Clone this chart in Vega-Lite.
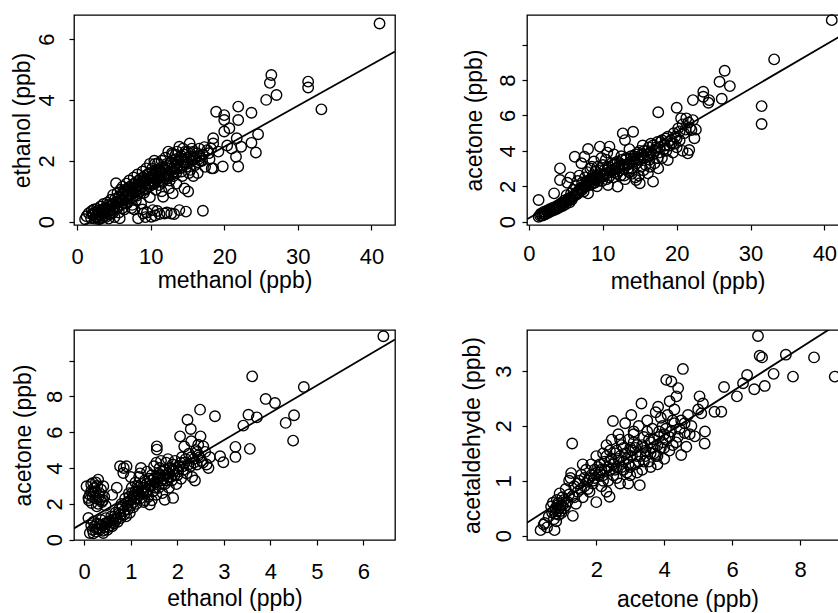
{
"$schema": "https://vega.github.io/schema/vega-lite/v6.json",
"autosize": {"type": "none"},
"padding": {"left": 74, "top": 15, "right": 764, "bottom": 598},
"background": "white",
"datasets": {
"p1": [
{"methanol":1.1,"ethanol":0.08},{"methanol":1.3,"ethanol":0.18},{"methanol":1.6,"ethanol":0.28},{"methanol":1.9,"ethanol":0.12},{"methanol":2.0,"ethanol":0.35},{"methanol":2.2,"ethanol":0.22},{"methanol":2.4,"ethanol":0.1},{"methanol":2.5,"ethanol":0.3},{"methanol":2.6,"ethanol":0.15},{"methanol":2.7,"ethanol":0.42},{"methanol":2.8,"ethanol":0.18},{"methanol":3.0,"ethanol":0.08},{"methanol":3.0,"ethanol":0.3},{"methanol":3.1,"ethanol":0.11},{"methanol":3.2,"ethanol":0.5},{"methanol":3.3,"ethanol":0.22},{"methanol":3.4,"ethanol":0.12},{"methanol":3.5,"ethanol":0.38},{"methanol":3.6,"ethanol":0.58},{"methanol":3.7,"ethanol":0.28},{"methanol":3.8,"ethanol":0.2},{"methanol":3.9,"ethanol":0.15},{"methanol":3.9,"ethanol":0.45},{"methanol":4.1,"ethanol":0.62},{"methanol":4.2,"ethanol":0.32},{"methanol":4.3,"ethanol":0.1},{"methanol":4.4,"ethanol":0.5},{"methanol":4.5,"ethanol":0.35},{"methanol":4.6,"ethanol":0.72},{"methanol":4.6,"ethanol":0.25},{"methanol":4.8,"ethanol":0.42},{"methanol":4.9,"ethanol":0.88},{"methanol":5.0,"ethanol":0.6},{"methanol":5.1,"ethanol":0.15},{"methanol":5.2,"ethanol":0.75},{"methanol":5.3,"ethanol":1.26},{"methanol":5.4,"ethanol":0.48},{"methanol":5.5,"ethanol":0.95},{"methanol":5.6,"ethanol":0.65},{"methanol":5.7,"ethanol":0.3},{"methanol":5.8,"ethanol":0.82},{"methanol":5.8,"ethanol":0.11},{"methanol":5.9,"ethanol":1.05},{"methanol":6.0,"ethanol":0.55},{"methanol":6.1,"ethanol":0.9},{"methanol":6.2,"ethanol":1.15},{"methanol":6.2,"ethanol":0.45},{"methanol":6.3,"ethanol":0.7},{"methanol":6.4,"ethanol":0.4},{"methanol":6.5,"ethanol":1.0},{"methanol":6.6,"ethanol":0.8},{"methanol":6.7,"ethanol":1.25},{"methanol":6.8,"ethanol":0.6},{"methanol":6.9,"ethanol":1.1},{"methanol":6.9,"ethanol":0.65},{"methanol":7.0,"ethanol":0.9},{"methanol":7.1,"ethanol":1.35},{"methanol":7.2,"ethanol":0.75},{"methanol":7.3,"ethanol":1.05},{"methanol":7.4,"ethanol":0.45},{"methanol":7.5,"ethanol":1.2},{"methanol":7.5,"ethanol":0.8},{"methanol":7.6,"ethanol":0.95},{"methanol":7.7,"ethanol":1.45},{"methanol":7.8,"ethanol":0.4},{"methanol":7.9,"ethanol":1.1},{"methanol":8.0,"ethanol":1.3},{"methanol":8.1,"ethanol":0.85},{"methanol":8.2,"ethanol":1.55},{"methanol":8.3,"ethanol":0.11},{"methanol":8.3,"ethanol":1.2},{"methanol":8.4,"ethanol":0.95},{"methanol":8.5,"ethanol":1.0},{"methanol":8.6,"ethanol":1.4},{"methanol":8.7,"ethanol":0.6},{"methanol":8.8,"ethanol":1.15},{"methanol":8.9,"ethanol":1.65},{"methanol":9.0,"ethanol":0.27},{"methanol":9.0,"ethanol":1.3},{"methanol":9.1,"ethanol":0.95},{"methanol":9.2,"ethanol":1.5},{"methanol":9.3,"ethanol":1.05},{"methanol":9.4,"ethanol":1.75},{"methanol":9.4,"ethanol":1.1},{"methanol":9.5,"ethanol":0.3},{"methanol":9.6,"ethanol":1.4},{"methanol":9.7,"ethanol":1.25},{"methanol":9.8,"ethanol":1.6},{"methanol":9.9,"ethanol":0.8},{"methanol":9.9,"ethanol":1.9},{"methanol":10.0,"ethanol":1.45},{"methanol":10.0,"ethanol":1.25},{"methanol":10.1,"ethanol":0.16},{"methanol":10.1,"ethanol":1.2},{"methanol":10.2,"ethanol":1.75},{"methanol":10.3,"ethanol":0.38},{"methanol":10.4,"ethanol":1.55},{"methanol":10.5,"ethanol":1.3},{"methanol":10.5,"ethanol":2.0},{"methanol":10.6,"ethanol":1.9},{"methanol":10.7,"ethanol":1.05},{"methanol":10.8,"ethanol":1.6},{"methanol":10.8,"ethanol":1.35},{"methanol":10.9,"ethanol":1.4},{"methanol":11.0,"ethanol":1.92},{"methanol":11.1,"ethanol":1.2},{"methanol":11.2,"ethanol":0.25},{"methanol":11.2,"ethanol":1.7},{"methanol":11.3,"ethanol":1.6},{"methanol":11.4,"ethanol":1.5},{"methanol":11.5,"ethanol":2.0},{"methanol":11.6,"ethanol":1.3},{"methanol":11.7,"ethanol":0.82},{"methanol":11.8,"ethanol":1.75},{"methanol":11.9,"ethanol":0.27},{"methanol":11.9,"ethanol":1.55},{"methanol":12.0,"ethanol":2.1},{"methanol":12.1,"ethanol":1.4},{"methanol":12.2,"ethanol":1.5},{"methanol":12.3,"ethanol":1.85},{"methanol":12.4,"ethanol":2.3},{"methanol":12.4,"ethanol":1.6},{"methanol":12.6,"ethanol":1.35},{"methanol":12.7,"ethanol":1.95},{"methanol":12.8,"ethanol":0.27},{"methanol":12.8,"ethanol":1.7},{"methanol":12.9,"ethanol":2.25},{"methanol":13.0,"ethanol":0.93},{"methanol":13.0,"ethanol":2.2},{"methanol":13.1,"ethanol":1.5},{"methanol":13.2,"ethanol":1.65},{"methanol":13.3,"ethanol":1.85},{"methanol":13.4,"ethanol":2.05},{"methanol":13.5,"ethanol":1.6},{"methanol":13.6,"ethanol":2.3},{"methanol":13.7,"ethanol":1.95},{"methanol":13.9,"ethanol":0.38},{"methanol":13.9,"ethanol":2.46},{"methanol":14.0,"ethanol":1.75},{"methanol":14.1,"ethanol":1.85},{"methanol":14.2,"ethanol":2.15},{"methanol":14.3,"ethanol":1.5},{"methanol":14.4,"ethanol":2.4},{"methanol":14.5,"ethanol":1.95},{"methanol":14.6,"ethanol":1.09},{"methanol":14.7,"ethanol":2.3},{"methanol":14.8,"ethanol":0.33},{"methanol":14.9,"ethanol":1.8},{"methanol":15.0,"ethanol":1.9},{"methanol":15.1,"ethanol":0.99},{"methanol":15.1,"ethanol":2.1},{"methanol":15.3,"ethanol":2.57},{"methanol":15.4,"ethanol":1.7},{"methanol":15.6,"ethanol":2.0},{"methanol":15.8,"ethanol":2.3},{"methanol":15.8,"ethanol":1.5},{"methanol":16.0,"ethanol":1.85},{"methanol":16.0,"ethanol":2.1},{"methanol":16.2,"ethanol":2.15},{"methanol":16.4,"ethanol":1.6},{"methanol":16.5,"ethanol":1.95},{"methanol":16.6,"ethanol":2.4},{"methanol":16.8,"ethanol":2.0},{"methanol":17.0,"ethanol":2.0},{"methanol":17.1,"ethanol":0.36},{"methanol":17.1,"ethanol":2.2},{"methanol":17.4,"ethanol":1.8},{"methanol":17.7,"ethanol":2.35},{"methanol":18.0,"ethanol":2.05},{"methanol":18.2,"ethanol":2.4},{"methanol":18.3,"ethanol":1.75},{"methanol":18.5,"ethanol":2.74},{"methanol":18.5,"ethanol":2.57},{"methanol":18.5,"ethanol":1.75},{"methanol":18.9,"ethanol":3.61},{"methanol":19.2,"ethanol":2.3},{"methanol":19.8,"ethanol":1.81},{"methanol":20.0,"ethanol":3.5},{"methanol":20.0,"ethanol":3.34},{"methanol":20.0,"ethanol":2.96},{"methanol":20.4,"ethanol":2.5},{"methanol":20.7,"ethanol":3.07},{"methanol":21.0,"ethanol":2.4},{"methanol":21.6,"ethanol":2.13},{"methanol":21.7,"ethanol":2.74},{"methanol":21.9,"ethanol":3.78},{"methanol":21.9,"ethanol":3.34},{"methanol":21.9,"ethanol":1.81},{"methanol":22.3,"ethanol":2.46},{"methanol":23.7,"ethanol":3.58},{"methanol":23.7,"ethanol":2.59},{"methanol":24.3,"ethanol":2.27},{"methanol":24.6,"ethanol":2.87},{"methanol":25.7,"ethanol":4.0},{"methanol":26.2,"ethanol":4.56},{"methanol":26.4,"ethanol":4.82},{"methanol":27.1,"ethanol":4.16},{"methanol":31.4,"ethanol":4.6},{"methanol":31.4,"ethanol":4.41},{"methanol":33.2,"ethanol":3.69},{"methanol":41.1,"ethanol":6.51},
{"methanol":2.1,"ethanol":0.25},{"methanol":2.3,"ethanol":0.4},{"methanol":2.9,"ethanol":0.35},{"methanol":3.2,"ethanol":0.2},{"methanol":3.5,"ethanol":0.15},{"methanol":3.6,"ethanol":0.42},{"methanol":4.0,"ethanol":0.4},{"methanol":4.2,"ethanol":0.55},{"methanol":4.4,"ethanol":0.25},{"methanol":4.7,"ethanol":0.55},{"methanol":4.9,"ethanol":0.3},{"methanol":5.1,"ethanol":0.5},{"methanol":5.3,"ethanol":0.65},{"methanol":5.5,"ethanol":0.45},{"methanol":5.6,"ethanol":0.8},{"methanol":5.9,"ethanol":0.7},{"methanol":6.1,"ethanol":0.75},{"methanol":6.3,"ethanol":0.9},{"methanol":6.5,"ethanol":0.6},{"methanol":6.6,"ethanol":1.05},{"methanol":6.8,"ethanol":0.85},{"methanol":7.0,"ethanol":1.0},{"methanol":7.2,"ethanol":1.15},{"methanol":7.4,"ethanol":0.9},{"methanol":7.6,"ethanol":1.1},{"methanol":7.8,"ethanol":1.25},{"methanol":8.0,"ethanol":1.0},{"methanol":8.2,"ethanol":1.2},{"methanol":8.4,"ethanol":1.35},{"methanol":8.6,"ethanol":1.1},{"methanol":8.8,"ethanol":1.3},{"methanol":9.0,"ethanol":1.45},{"methanol":9.2,"ethanol":1.2},{"methanol":9.4,"ethanol":1.35},{"methanol":9.6,"ethanol":1.55},{"methanol":9.8,"ethanol":1.15},{"methanol":10.0,"ethanol":1.35},{"methanol":10.2,"ethanol":1.5},{"methanol":10.4,"ethanol":1.25},{"methanol":10.6,"ethanol":1.45},{"methanol":10.8,"ethanol":1.7},{"methanol":11.0,"ethanol":1.5},{"methanol":11.2,"ethanol":1.35},{"methanol":11.4,"ethanol":1.65},{"methanol":11.6,"ethanol":1.8},{"methanol":11.8,"ethanol":1.45},{"methanol":12.0,"ethanol":1.7},{"methanol":12.2,"ethanol":1.9},{"methanol":12.4,"ethanol":1.5},{"methanol":12.6,"ethanol":1.75},{"methanol":12.8,"ethanol":1.95},{"methanol":13.0,"ethanol":1.6},{"methanol":13.2,"ethanol":1.8},{"methanol":13.4,"ethanol":2.2},{"methanol":13.6,"ethanol":1.75},{"methanol":13.8,"ethanol":2.0},{"methanol":14.0,"ethanol":2.1},{"methanol":14.2,"ethanol":1.65},{"methanol":14.4,"ethanol":1.95},{"methanol":14.6,"ethanol":2.2},{"methanol":14.8,"ethanol":2.05},{"methanol":15.0,"ethanol":2.3},{"methanol":15.2,"ethanol":1.6},{"methanol":15.4,"ethanol":2.15},{"methanol":15.6,"ethanol":2.4},{"methanol":15.9,"ethanol":2.05},{"methanol":16.3,"ethanol":2.25},{"methanol":16.7,"ethanol":2.15},{"methanol":17.3,"ethanol":2.45},{"methanol":17.9,"ethanol":2.25},{"methanol":8.9,"ethanol":0.4},{"methanol":9.3,"ethanol":0.15},{"methanol":10.6,"ethanol":0.2},{"methanol":10.9,"ethanol":0.35},{"methanol":12.2,"ethanol":0.3},{"methanol":13.2,"ethanol":0.25},{"methanol":7.5,"ethanol":0.55},{"methanol":8.0,"ethanol":0.7},{"methanol":12.5,"ethanol":1.1},{"methanol":13.5,"ethanol":1.25},{"methanol":11.5,"ethanol":1.0}
],
"p2": [
{"methanol":1.3,"acetone":0.28},{"methanol":1.3,"acetone":1.22},{"methanol":1.6,"acetone":0.45},{"methanol":1.8,"acetone":0.35},{"methanol":2.0,"acetone":0.55},{"methanol":2.2,"acetone":0.42},{"methanol":2.3,"acetone":0.5},{"methanol":2.4,"acetone":0.62},{"methanol":2.6,"acetone":0.5},{"methanol":2.8,"acetone":0.7},{"methanol":2.9,"acetone":0.65},{"methanol":3.0,"acetone":0.58},{"methanol":3.2,"acetone":0.78},{"methanol":3.4,"acetone":1.6},{"methanol":3.4,"acetone":0.65},{"methanol":3.5,"acetone":0.75},{"methanol":3.6,"acetone":0.85},{"methanol":3.8,"acetone":0.72},{"methanol":4.0,"acetone":0.95},{"methanol":4.2,"acetone":3.01},{"methanol":4.2,"acetone":2.35},{"methanol":4.2,"acetone":0.82},{"methanol":4.4,"acetone":1.05},{"methanol":4.5,"acetone":1.0},{"methanol":4.6,"acetone":0.9},{"methanol":4.8,"acetone":1.2},{"methanol":5.0,"acetone":1.0},{"methanol":5.1,"acetone":1.5},{"methanol":5.2,"acetone":2.2},{"methanol":5.3,"acetone":1.3},{"methanol":5.4,"acetone":1.2},{"methanol":5.5,"acetone":1.1},{"methanol":5.6,"acetone":2.5},{"methanol":5.7,"acetone":1.6},{"methanol":5.8,"acetone":1.25},{"methanol":6.0,"acetone":1.8},{"methanol":6.1,"acetone":1.45},{"methanol":6.2,"acetone":3.67},{"methanol":6.3,"acetone":2.0},{"methanol":6.4,"acetone":1.6},{"methanol":6.5,"acetone":1.55},{"methanol":6.6,"acetone":2.3},{"methanol":6.7,"acetone":1.75},{"methanol":6.8,"acetone":2.6},{"methanol":7.0,"acetone":1.9},{"methanol":7.1,"acetone":3.3},{"methanol":7.2,"acetone":2.2},{"methanol":7.3,"acetone":1.9},{"methanol":7.4,"acetone":1.7},{"methanol":7.5,"acetone":3.67},{"methanol":7.6,"acetone":2.5},{"methanol":7.7,"acetone":2.0},{"methanol":7.8,"acetone":2.1},{"methanol":7.9,"acetone":2.8},{"methanol":8.0,"acetone":4.11},{"methanol":8.0,"acetone":1.6},{"methanol":8.1,"acetone":2.3},{"methanol":8.2,"acetone":2.2},{"methanol":8.3,"acetone":3.0},{"methanol":8.4,"acetone":2.1},{"methanol":8.6,"acetone":2.6},{"methanol":8.7,"acetone":2.4},{"methanol":8.8,"acetone":3.4},{"methanol":8.9,"acetone":2.2},{"methanol":9.0,"acetone":2.85},{"methanol":9.1,"acetone":2.4},{"methanol":9.2,"acetone":2.0},{"methanol":9.3,"acetone":3.1},{"methanol":9.4,"acetone":2.6},{"methanol":9.5,"acetone":2.5},{"methanol":9.6,"acetone":4.24},{"methanol":9.7,"acetone":2.9},{"methanol":9.9,"acetone":2.3},{"methanol":10.0,"acetone":3.2},{"methanol":10.1,"acetone":2.6},{"methanol":10.2,"acetone":2.7},{"methanol":10.4,"acetone":3.5},{"methanol":10.5,"acetone":2.4},{"methanol":10.7,"acetone":2.07},{"methanol":10.7,"acetone":3.0},{"methanol":10.8,"acetone":2.5},{"methanol":10.9,"acetone":4.24},{"methanol":11.0,"acetone":2.8},{"methanol":11.2,"acetone":3.3},{"methanol":11.3,"acetone":2.9},{"methanol":11.4,"acetone":2.5},{"methanol":11.5,"acetone":3.8},{"methanol":11.6,"acetone":2.8},{"methanol":11.7,"acetone":3.0},{"methanol":11.9,"acetone":2.7},{"methanol":12.0,"acetone":1.98},{"methanol":12.0,"acetone":3.4},{"methanol":12.2,"acetone":3.1},{"methanol":12.3,"acetone":2.9},{"methanol":12.4,"acetone":2.6},{"methanol":12.5,"acetone":3.7},{"methanol":12.6,"acetone":3.2},{"methanol":12.7,"acetone":4.99},{"methanol":12.8,"acetone":3.0},{"methanol":13.0,"acetone":4.61},{"methanol":13.0,"acetone":2.4},{"methanol":13.1,"acetone":3.5},{"methanol":13.3,"acetone":3.2},{"methanol":13.4,"acetone":3.0},{"methanol":13.5,"acetone":2.8},{"methanol":13.6,"acetone":4.1},{"methanol":13.8,"acetone":3.4},{"methanol":14.0,"acetone":3.0},{"methanol":14.1,"acetone":5.08},{"methanol":14.2,"acetone":3.7},{"methanol":14.3,"acetone":3.4},{"methanol":14.4,"acetone":2.5},{"methanol":14.5,"acetone":2.35},{"methanol":14.6,"acetone":3.3},{"methanol":14.8,"acetone":3.9},{"methanol":15.0,"acetone":2.17},{"methanol":15.0,"acetone":3.5},{"methanol":15.2,"acetone":3.1},{"methanol":15.3,"acetone":3.8},{"methanol":15.4,"acetone":4.3},{"methanol":15.6,"acetone":3.6},{"methanol":15.8,"acetone":3.2},{"methanol":16.0,"acetone":4.0},{"methanol":16.1,"acetone":2.73},{"methanol":16.2,"acetone":3.7},{"methanol":16.3,"acetone":3.5},{"methanol":16.5,"acetone":4.4},{"methanol":16.8,"acetone":2.26},{"methanol":16.8,"acetone":3.8},{"methanol":17.0,"acetone":3.3},{"methanol":17.2,"acetone":4.2},{"methanol":17.4,"acetone":3.6},{"methanol":17.5,"acetone":6.18},{"methanol":17.5,"acetone":3.01},{"methanol":17.6,"acetone":3.9},{"methanol":17.8,"acetone":4.5},{"methanol":18.0,"acetone":3.6},{"methanol":18.3,"acetone":4.1},{"methanol":18.5,"acetone":4.7},{"methanol":18.6,"acetone":4.0},{"methanol":18.8,"acetone":3.48},{"methanol":19.0,"acetone":4.3},{"methanol":19.3,"acetone":4.43},{"methanol":19.5,"acetone":3.9},{"methanol":19.6,"acetone":4.4},{"methanol":19.8,"acetone":4.8},{"methanol":20.0,"acetone":6.44},{"methanol":20.0,"acetone":4.2},{"methanol":20.2,"acetone":5.27},{"methanol":20.4,"acetone":4.6},{"methanol":20.6,"acetone":5.84},{"methanol":20.8,"acetone":4.0},{"methanol":21.0,"acetone":5.0},{"methanol":21.3,"acetone":5.84},{"methanol":21.5,"acetone":3.86},{"methanol":21.7,"acetone":4.05},{"methanol":21.8,"acetone":5.3},{"methanol":22.0,"acetone":5.18},{"methanol":22.2,"acetone":5.74},{"methanol":22.2,"acetone":6.87},{"methanol":22.4,"acetone":4.71},{"methanol":22.6,"acetone":5.2},{"methanol":23.6,"acetone":7.34},{"methanol":23.6,"acetone":7.06},{"methanol":24.3,"acetone":6.72},{"methanol":24.4,"acetone":6.87},{"methanol":25.8,"acetone":7.91},{"methanol":26.1,"acetone":6.95},{"methanol":26.5,"acetone":8.53},{"methanol":27.2,"acetone":7.66},{"methanol":31.5,"acetone":6.53},{"methanol":31.5,"acetone":5.52},{"methanol":33.2,"acetone":9.17},{"methanol":41.0,"acetone":11.39},
{"methanol":1.5,"acetone":0.35},{"methanol":1.9,"acetone":0.45},{"methanol":2.1,"acetone":0.4},{"methanol":2.5,"acetone":0.55},{"methanol":2.7,"acetone":0.6},{"methanol":3.1,"acetone":0.7},{"methanol":3.3,"acetone":0.7},{"methanol":3.7,"acetone":0.8},{"methanol":3.9,"acetone":0.85},{"methanol":4.1,"acetone":0.9},{"methanol":4.3,"acetone":1.0},{"methanol":4.7,"acetone":1.05},{"methanol":4.9,"acetone":1.1},{"methanol":5.2,"acetone":1.2},{"methanol":5.6,"acetone":1.35},{"methanol":5.9,"acetone":1.4},{"methanol":6.2,"acetone":1.5},{"methanol":6.6,"acetone":1.65},{"methanol":6.9,"acetone":1.8},{"methanol":7.2,"acetone":1.8},{"methanol":7.5,"acetone":2.0},{"methanol":7.8,"acetone":2.3},{"methanol":8.1,"acetone":2.05},{"methanol":8.4,"acetone":2.4},{"methanol":8.7,"acetone":2.2},{"methanol":9.0,"acetone":2.5},{"methanol":9.3,"acetone":2.3},{"methanol":9.6,"acetone":2.7},{"methanol":9.9,"acetone":2.6},{"methanol":10.2,"acetone":2.9},{"methanol":10.5,"acetone":2.7},{"methanol":10.8,"acetone":3.1},{"methanol":11.1,"acetone":2.9},{"methanol":11.4,"acetone":3.2},{"methanol":11.7,"acetone":3.3},{"methanol":12.0,"acetone":3.0},{"methanol":12.3,"acetone":3.3},{"methanol":12.6,"acetone":3.5},{"methanol":12.9,"acetone":3.2},{"methanol":13.2,"acetone":3.6},{"methanol":13.5,"acetone":3.3},{"methanol":13.8,"acetone":3.7},{"methanol":14.1,"acetone":3.5},{"methanol":14.4,"acetone":3.8},{"methanol":14.7,"acetone":3.6},{"methanol":15.0,"acetone":4.0},{"methanol":15.3,"acetone":3.6},{"methanol":15.6,"acetone":4.0},{"methanol":15.9,"acetone":3.8},{"methanol":16.2,"acetone":4.2},{"methanol":16.5,"acetone":3.9},{"methanol":16.8,"acetone":4.3},{"methanol":17.1,"acetone":4.0},{"methanol":17.4,"acetone":4.5},{"methanol":17.7,"acetone":4.2},{"methanol":18.0,"acetone":4.6},{"methanol":18.4,"acetone":4.3},{"methanol":18.8,"acetone":4.8},{"methanol":19.2,"acetone":4.6},{"methanol":19.6,"acetone":5.0},{"methanol":20.0,"acetone":4.7},{"methanol":20.4,"acetone":5.1},{"methanol":20.8,"acetone":5.5},{"methanol":21.2,"acetone":5.2},{"methanol":21.6,"acetone":5.6},{"methanol":12.9,"acetone":2.6},{"methanol":13.9,"acetone":2.7},{"methanol":15.5,"acetone":2.9},{"methanol":16.4,"acetone":3.1},{"methanol":14.9,"acetone":2.6},{"methanol":9.8,"acetone":3.6},{"methanol":8.5,"acetone":3.1},{"methanol":10.6,"acetone":3.9}
],
"p3": [
{"ethanol":0.05,"acetone":2.98},{"ethanol":0.09,"acetone":2.33},{"ethanol":0.1,"acetone":2.2},{"ethanol":0.12,"acetone":2.51},{"ethanol":0.15,"acetone":3.1},{"ethanol":0.16,"acetone":2.05},{"ethanol":0.19,"acetone":3.17},{"ethanol":0.2,"acetone":2.6},{"ethanol":0.22,"acetone":2.9},{"ethanol":0.23,"acetone":2.7},{"ethanol":0.25,"acetone":2.3},{"ethanol":0.27,"acetone":1.86},{"ethanol":0.28,"acetone":3.0},{"ethanol":0.3,"acetone":3.35},{"ethanol":0.32,"acetone":2.45},{"ethanol":0.34,"acetone":2.23},{"ethanol":0.36,"acetone":2.8},{"ethanol":0.38,"acetone":2.1},{"ethanol":0.41,"acetone":2.98},{"ethanol":0.43,"acetone":2.4},{"ethanol":0.46,"acetone":1.9},{"ethanol":0.09,"acetone":1.21},{"ethanol":0.12,"acetone":0.37},{"ethanol":0.15,"acetone":0.8},{"ethanol":0.18,"acetone":0.55},{"ethanol":0.2,"acetone":1.0},{"ethanol":0.23,"acetone":0.74},{"ethanol":0.25,"acetone":0.45},{"ethanol":0.28,"acetone":0.9},{"ethanol":0.3,"acetone":0.6},{"ethanol":0.34,"acetone":0.56},{"ethanol":0.36,"acetone":1.1},{"ethanol":0.38,"acetone":0.8},{"ethanol":0.41,"acetone":0.37},{"ethanol":0.44,"acetone":0.7},{"ethanol":0.46,"acetone":1.2},{"ethanol":0.48,"acetone":0.93},{"ethanol":0.5,"acetone":0.55},{"ethanol":0.53,"acetone":1.0},{"ethanol":0.56,"acetone":0.8},{"ethanol":0.58,"acetone":1.3},{"ethanol":0.6,"acetone":2.5},{"ethanol":0.62,"acetone":1.12},{"ethanol":0.64,"acetone":0.9},{"ethanol":0.67,"acetone":1.5},{"ethanol":0.7,"acetone":1.2},{"ethanol":0.7,"acetone":2.9},{"ethanol":0.72,"acetone":1.0},{"ethanol":0.75,"acetone":1.7},{"ethanol":0.77,"acetone":4.1},{"ethanol":0.78,"acetone":1.4},{"ethanol":0.8,"acetone":2.0},{"ethanol":0.84,"acetone":3.72},{"ethanol":0.85,"acetone":1.6},{"ethanol":0.85,"acetone":4.0},{"ethanol":0.88,"acetone":2.3},{"ethanol":0.9,"acetone":1.3},{"ethanol":0.91,"acetone":4.1},{"ethanol":0.93,"acetone":1.9},{"ethanol":0.95,"acetone":2.1},{"ethanol":0.96,"acetone":2.6},{"ethanol":0.98,"acetone":1.5},{"ethanol":1.0,"acetone":2.2},{"ethanol":1.02,"acetone":2.9},{"ethanol":1.05,"acetone":1.8},{"ethanol":1.05,"acetone":2.4},{"ethanol":1.08,"acetone":2.5},{"ethanol":1.1,"acetone":3.2},{"ethanol":1.12,"acetone":2.0},{"ethanol":1.15,"acetone":2.7},{"ethanol":1.15,"acetone":3.0},{"ethanol":1.18,"acetone":3.5},{"ethanol":1.2,"acetone":2.3},{"ethanol":1.22,"acetone":4.0},{"ethanol":1.25,"acetone":2.9},{"ethanol":1.25,"acetone":2.6},{"ethanol":1.28,"acetone":2.1},{"ethanol":1.3,"acetone":3.3},{"ethanol":1.3,"acetone":2.2},{"ethanol":1.33,"acetone":2.6},{"ethanol":1.35,"acetone":3.8},{"ethanol":1.38,"acetone":2.4},{"ethanol":1.4,"acetone":3.4},{"ethanol":1.41,"acetone":1.96},{"ethanol":1.42,"acetone":3.0},{"ethanol":1.45,"acetone":3.6},{"ethanol":1.45,"acetone":2.2},{"ethanol":1.48,"acetone":2.7},{"ethanol":1.5,"acetone":4.1},{"ethanol":1.52,"acetone":3.2},{"ethanol":1.55,"acetone":2.5},{"ethanol":1.56,"acetone":5.21},{"ethanol":1.56,"acetone":5.03},{"ethanol":1.58,"acetone":3.5},{"ethanol":1.6,"acetone":2.9},{"ethanol":1.6,"acetone":3.7},{"ethanol":1.62,"acetone":4.0},{"ethanol":1.65,"acetone":3.3},{"ethanol":1.68,"acetone":2.6},{"ethanol":1.7,"acetone":3.8},{"ethanol":1.73,"acetone":2.23},{"ethanol":1.73,"acetone":3.1},{"ethanol":1.75,"acetone":3.6},{"ethanol":1.76,"acetone":4.3},{"ethanol":1.8,"acetone":3.5},{"ethanol":1.82,"acetone":2.9},{"ethanol":1.85,"acetone":4.0},{"ethanol":1.88,"acetone":3.3},{"ethanol":1.9,"acetone":4.2},{"ethanol":1.91,"acetone":2.33},{"ethanol":1.92,"acetone":3.8},{"ethanol":1.95,"acetone":4.4},{"ethanol":1.98,"acetone":3.1},{"ethanol":2.0,"acetone":3.6},{"ethanol":2.03,"acetone":4.1},{"ethanol":2.06,"acetone":5.77},{"ethanol":2.08,"acetone":3.4},{"ethanol":2.1,"acetone":4.6},{"ethanol":2.13,"acetone":3.9},{"ethanol":2.15,"acetone":5.2},{"ethanol":2.16,"acetone":4.3},{"ethanol":2.2,"acetone":3.7},{"ethanol":2.22,"acetone":6.7},{"ethanol":2.25,"acetone":4.8},{"ethanol":2.28,"acetone":4.1},{"ethanol":2.29,"acetone":6.18},{"ethanol":2.3,"acetone":5.5},{"ethanol":2.32,"acetone":3.5},{"ethanol":2.35,"acetone":4.5},{"ethanol":2.38,"acetone":3.3},{"ethanol":2.4,"acetone":5.0},{"ethanol":2.42,"acetone":4.2},{"ethanol":2.45,"acetone":4.7},{"ethanol":2.45,"acetone":5.3},{"ethanol":2.49,"acetone":7.26},{"ethanol":2.5,"acetone":5.77},{"ethanol":2.52,"acetone":4.4},{"ethanol":2.56,"acetone":5.21},{"ethanol":2.6,"acetone":4.9},{"ethanol":2.63,"acetone":4.2},{"ethanol":2.67,"acetone":4.0},{"ethanol":2.7,"acetone":4.6},{"ethanol":2.81,"acetone":6.89},{"ethanol":2.92,"acetone":4.66},{"ethanol":2.99,"acetone":4.32},{"ethanol":3.25,"acetone":5.18},{"ethanol":3.25,"acetone":4.62},{"ethanol":3.42,"acetone":6.37},{"ethanol":3.53,"acetone":6.98},{"ethanol":3.56,"acetone":5.07},{"ethanol":3.61,"acetone":9.12},{"ethanol":3.71,"acetone":6.83},{"ethanol":3.9,"acetone":7.86},{"ethanol":4.1,"acetone":7.63},{"ethanol":4.33,"acetone":6.52},{"ethanol":4.49,"acetone":5.53},{"ethanol":4.51,"acetone":6.95},{"ethanol":4.72,"acetone":8.53},{"ethanol":6.43,"acetone":11.36},
{"ethanol":0.55,"acetone":1.05},{"ethanol":0.6,"acetone":0.75},{"ethanol":0.65,"acetone":1.3},{"ethanol":0.68,"acetone":1.1},{"ethanol":0.73,"acetone":1.45},{"ethanol":0.78,"acetone":1.2},{"ethanol":0.82,"acetone":1.8},{"ethanol":0.86,"acetone":1.4},{"ethanol":0.9,"acetone":2.0},{"ethanol":0.94,"acetone":1.7},{"ethanol":0.97,"acetone":2.4},{"ethanol":1.0,"acetone":1.9},{"ethanol":1.03,"acetone":2.6},{"ethanol":1.06,"acetone":2.1},{"ethanol":1.1,"acetone":2.7},{"ethanol":1.13,"acetone":2.3},{"ethanol":1.17,"acetone":2.9},{"ethanol":1.2,"acetone":2.5},{"ethanol":1.23,"acetone":3.1},{"ethanol":1.27,"acetone":2.7},{"ethanol":1.3,"acetone":2.9},{"ethanol":1.34,"acetone":3.1},{"ethanol":1.37,"acetone":2.8},{"ethanol":1.4,"acetone":3.0},{"ethanol":1.43,"acetone":3.3},{"ethanol":1.47,"acetone":3.1},{"ethanol":1.5,"acetone":3.4},{"ethanol":1.53,"acetone":2.9},{"ethanol":1.57,"acetone":3.2},{"ethanol":1.6,"acetone":3.4},{"ethanol":1.63,"acetone":3.6},{"ethanol":1.67,"acetone":3.1},{"ethanol":1.7,"acetone":3.4},{"ethanol":1.74,"acetone":3.9},{"ethanol":1.78,"acetone":3.3},{"ethanol":1.82,"acetone":3.7},{"ethanol":1.86,"acetone":3.5},{"ethanol":1.9,"acetone":3.9},{"ethanol":1.94,"acetone":3.6},{"ethanol":1.98,"acetone":4.0},{"ethanol":2.02,"acetone":3.8},{"ethanol":2.07,"acetone":4.3},{"ethanol":2.12,"acetone":4.1},{"ethanol":2.18,"acetone":4.5},{"ethanol":2.24,"acetone":4.2},{"ethanol":2.3,"acetone":4.6},{"ethanol":2.36,"acetone":4.3},{"ethanol":2.42,"acetone":4.9},{"ethanol":2.48,"acetone":4.6},{"ethanol":2.55,"acetone":4.3},{"ethanol":0.2,"acetone":0.35},{"ethanol":0.26,"acetone":0.6},{"ethanol":0.32,"acetone":0.85},{"ethanol":0.4,"acetone":0.5},{"ethanol":0.45,"acetone":0.9},{"ethanol":0.52,"acetone":0.7},{"ethanol":0.15,"acetone":2.7},{"ethanol":0.25,"acetone":3.2},{"ethanol":0.33,"acetone":2.6},{"ethanol":0.4,"acetone":2.2},{"ethanol":0.18,"acetone":2.4},{"ethanol":0.3,"acetone":2.0},{"ethanol":1.55,"acetone":4.3},{"ethanol":1.65,"acetone":4.4},{"ethanol":1.8,"acetone":4.5},{"ethanol":1.2,"acetone":3.7},{"ethanol":1.0,"acetone":3.5}
],
"p4": [
{"acetone":0.36,"acetaldehyde":0.1},{"acetone":0.45,"acetaldehyde":0.2},{"acetone":0.48,"acetaldehyde":0.23},{"acetone":0.55,"acetaldehyde":0.15},{"acetone":0.6,"acetaldehyde":0.35},{"acetone":0.67,"acetaldehyde":0.53},{"acetone":0.7,"acetaldehyde":0.42},{"acetone":0.72,"acetaldehyde":0.6},{"acetone":0.75,"acetaldehyde":0.3},{"acetone":0.75,"acetaldehyde":0.45},{"acetone":0.77,"acetaldehyde":0.1},{"acetone":0.8,"acetaldehyde":0.5},{"acetone":0.82,"acetaldehyde":0.26},{"acetone":0.84,"acetaldehyde":0.65},{"acetone":0.85,"acetaldehyde":0.45},{"acetone":0.87,"acetaldehyde":0.59},{"acetone":0.9,"acetaldehyde":0.38},{"acetone":0.9,"acetaldehyde":0.5},{"acetone":0.92,"acetaldehyde":0.77},{"acetone":0.95,"acetaldehyde":0.55},{"acetone":0.97,"acetaldehyde":0.41},{"acetone":1.0,"acetaldehyde":0.7},{"acetone":1.0,"acetaldehyde":0.55},{"acetone":1.05,"acetaldehyde":0.5},{"acetone":1.1,"acetaldehyde":0.85},{"acetone":1.15,"acetaldehyde":0.62},{"acetone":1.2,"acetaldehyde":1.0},{"acetone":1.24,"acetaldehyde":1.05},{"acetone":1.26,"acetaldehyde":1.14},{"acetone":1.29,"acetaldehyde":1.68},{"acetone":1.3,"acetaldehyde":0.72},{"acetone":1.31,"acetaldehyde":0.36},{"acetone":1.35,"acetaldehyde":0.9},{"acetone":1.4,"acetaldehyde":0.58},{"acetone":1.45,"acetaldehyde":0.8},{"acetone":1.5,"acetaldehyde":1.0},{"acetone":1.56,"acetaldehyde":1.11},{"acetone":1.6,"acetaldehyde":0.7},{"acetone":1.65,"acetaldehyde":0.9},{"acetone":1.7,"acetaldehyde":1.2},{"acetone":1.75,"acetaldehyde":0.85},{"acetone":1.8,"acetaldehyde":1.05},{"acetone":1.85,"acetaldehyde":1.3},{"acetone":1.9,"acetaldehyde":0.95},{"acetone":1.9,"acetaldehyde":1.0},{"acetone":1.95,"acetaldehyde":1.2},{"acetone":2.0,"acetaldehyde":0.61},{"acetone":2.0,"acetaldehyde":1.45},{"acetone":2.05,"acetaldehyde":1.1},{"acetone":2.1,"acetaldehyde":1.3},{"acetone":2.1,"acetaldehyde":1.15},{"acetone":2.15,"acetaldehyde":0.9},{"acetone":2.2,"acetaldehyde":1.5},{"acetone":2.2,"acetaldehyde":1.0},{"acetone":2.25,"acetaldehyde":1.2},{"acetone":2.3,"acetaldehyde":0.8},{"acetone":2.3,"acetaldehyde":1.65},{"acetone":2.35,"acetaldehyde":1.0},{"acetone":2.39,"acetaldehyde":0.71},{"acetone":2.4,"acetaldehyde":1.35},{"acetone":2.4,"acetaldehyde":1.2},{"acetone":2.45,"acetaldehyde":1.75},{"acetone":2.49,"acetaldehyde":2.09},{"acetone":2.5,"acetaldehyde":1.1},{"acetone":2.5,"acetaldehyde":1.3},{"acetone":2.55,"acetaldehyde":1.5},{"acetone":2.6,"acetaldehyde":1.25},{"acetone":2.6,"acetaldehyde":1.55},{"acetone":2.65,"acetaldehyde":1.85},{"acetone":2.7,"acetaldehyde":0.95},{"acetone":2.7,"acetaldehyde":1.45},{"acetone":2.75,"acetaldehyde":1.65},{"acetone":2.8,"acetaldehyde":1.2},{"acetone":2.8,"acetaldehyde":1.35},{"acetone":2.85,"acetaldehyde":2.05},{"acetone":2.9,"acetaldehyde":1.4},{"acetone":2.9,"acetaldehyde":1.15},{"acetone":2.94,"acetaldehyde":0.95},{"acetone":2.95,"acetaldehyde":1.75},{"acetone":3.0,"acetaldehyde":1.1},{"acetone":3.0,"acetaldehyde":1.6},{"acetone":3.03,"acetaldehyde":2.2},{"acetone":3.05,"acetaldehyde":1.55},{"acetone":3.1,"acetaldehyde":1.9},{"acetone":3.1,"acetaldehyde":1.7},{"acetone":3.15,"acetaldehyde":1.3},{"acetone":3.2,"acetaldehyde":1.65},{"acetone":3.2,"acetaldehyde":1.45},{"acetone":3.25,"acetaldehyde":2.0},{"acetone":3.28,"acetaldehyde":0.92},{"acetone":3.3,"acetaldehyde":1.45},{"acetone":3.33,"acetaldehyde":2.41},{"acetone":3.35,"acetaldehyde":1.2},{"acetone":3.4,"acetaldehyde":1.8},{"acetone":3.4,"acetaldehyde":1.35},{"acetone":3.45,"acetaldehyde":1.55},{"acetone":3.5,"acetaldehyde":2.1},{"acetone":3.55,"acetaldehyde":1.35},{"acetone":3.6,"acetaldehyde":1.7},{"acetone":3.6,"acetaldehyde":1.5},{"acetone":3.65,"acetaldehyde":1.95},{"acetone":3.7,"acetaldehyde":1.5},{"acetone":3.7,"acetaldehyde":1.75},{"acetone":3.75,"acetaldehyde":2.25},{"acetone":3.8,"acetaldehyde":1.3},{"acetone":3.8,"acetaldehyde":1.65},{"acetone":3.82,"acetaldehyde":2.35},{"acetone":3.85,"acetaldehyde":1.8},{"acetone":3.9,"acetaldehyde":1.6},{"acetone":3.95,"acetaldehyde":2.0},{"acetone":4.0,"acetaldehyde":1.4},{"acetone":4.0,"acetaldehyde":1.85},{"acetone":4.05,"acetaldehyde":1.75},{"acetone":4.06,"acetaldehyde":2.84},{"acetone":4.1,"acetaldehyde":2.2},{"acetone":4.15,"acetaldehyde":1.55},{"acetone":4.16,"acetaldehyde":2.45},{"acetone":4.2,"acetaldehyde":1.9},{"acetone":4.21,"acetaldehyde":2.81},{"acetone":4.25,"acetaldehyde":1.65},{"acetone":4.3,"acetaldehyde":2.05},{"acetone":4.36,"acetaldehyde":2.54},{"acetone":4.4,"acetaldehyde":1.8},{"acetone":4.41,"acetaldehyde":2.69},{"acetone":4.5,"acetaldehyde":1.47},{"acetone":4.5,"acetaldehyde":2.1},{"acetone":4.55,"acetaldehyde":3.04},{"acetone":4.6,"acetaldehyde":1.87},{"acetone":4.65,"acetaldehyde":1.62},{"acetone":4.7,"acetaldehyde":2.2},{"acetone":4.8,"acetaldehyde":2.0},{"acetone":4.9,"acetaldehyde":1.81},{"acetone":5.0,"acetaldehyde":2.3},{"acetone":5.04,"acetaldehyde":2.54},{"acetone":5.09,"acetaldehyde":2.23},{"acetone":5.14,"acetaldehyde":2.41},{"acetone":5.19,"acetaldehyde":1.68},{"acetone":5.2,"acetaldehyde":1.9},{"acetone":5.48,"acetaldehyde":2.26},{"acetone":5.68,"acetaldehyde":2.26},{"acetone":5.76,"acetaldehyde":2.71},{"acetone":6.14,"acetaldehyde":2.54},{"acetone":6.32,"acetaldehyde":2.78},{"acetone":6.44,"acetaldehyde":2.93},{"acetone":6.65,"acetaldehyde":2.67},{"acetone":6.76,"acetaldehyde":3.64},{"acetone":6.81,"acetaldehyde":3.28},{"acetone":6.88,"acetaldehyde":3.25},{"acetone":6.96,"acetaldehyde":2.73},{"acetone":7.22,"acetaldehyde":2.95},{"acetone":7.58,"acetaldehyde":3.3},{"acetone":7.79,"acetaldehyde":2.9},{"acetone":8.41,"acetaldehyde":3.25},{"acetone":9.02,"acetaldehyde":2.9},
{"acetone":0.8,"acetaldehyde":0.4},{"acetone":0.85,"acetaldehyde":0.55},{"acetone":0.95,"acetaldehyde":0.45},{"acetone":1.05,"acetaldehyde":0.65},{"acetone":1.1,"acetaldehyde":0.55},{"acetone":1.2,"acetaldehyde":0.75},{"acetone":1.35,"acetaldehyde":0.7},{"acetone":1.45,"acetaldehyde":0.95},{"acetone":1.55,"acetaldehyde":0.85},{"acetone":1.65,"acetaldehyde":1.05},{"acetone":1.75,"acetaldehyde":1.0},{"acetone":1.85,"acetaldehyde":1.1},{"acetone":1.95,"acetaldehyde":1.05},{"acetone":2.05,"acetaldehyde":1.25},{"acetone":2.15,"acetaldehyde":1.2},{"acetone":2.25,"acetaldehyde":1.35},{"acetone":2.35,"acetaldehyde":1.25},{"acetone":2.45,"acetaldehyde":1.4},{"acetone":2.55,"acetaldehyde":1.2},{"acetone":2.65,"acetaldehyde":1.4},{"acetone":2.75,"acetaldehyde":1.25},{"acetone":2.85,"acetaldehyde":1.5},{"acetone":2.95,"acetaldehyde":1.3},{"acetone":3.05,"acetaldehyde":1.45},{"acetone":3.15,"acetaldehyde":1.6},{"acetone":3.25,"acetaldehyde":1.35},{"acetone":3.35,"acetaldehyde":1.65},{"acetone":3.45,"acetaldehyde":1.45},{"acetone":3.55,"acetaldehyde":1.75},{"acetone":3.65,"acetaldehyde":1.6},{"acetone":3.75,"acetaldehyde":1.45},{"acetone":3.85,"acetaldehyde":1.9},{"acetone":3.95,"acetaldehyde":1.7},{"acetone":4.05,"acetaldehyde":1.95},{"acetone":4.15,"acetaldehyde":1.8},{"acetone":4.25,"acetaldehyde":2.1},{"acetone":4.35,"acetaldehyde":1.7},{"acetone":4.45,"acetaldehyde":1.95},{"acetone":4.6,"acetaldehyde":2.05},{"acetone":4.75,"acetaldehyde":1.85},{"acetone":2.2,"acetaldehyde":1.1},{"acetone":2.4,"acetaldehyde":1.55},{"acetone":2.6,"acetaldehyde":1.05},{"acetone":2.8,"acetaldehyde":1.6},{"acetone":3.0,"acetaldehyde":1.25},{"acetone":3.2,"acetaldehyde":1.15},{"acetone":3.4,"acetaldehyde":1.6},{"acetone":3.6,"acetaldehyde":1.25},{"acetone":3.8,"acetaldehyde":1.45},{"acetone":4.0,"acetaldehyde":1.6},{"acetone":2.3,"acetaldehyde":1.45},{"acetone":2.7,"acetaldehyde":1.75},{"acetone":3.1,"acetaldehyde":1.85},{"acetone":3.5,"acetaldehyde":1.9},{"acetone":3.9,"acetaldehyde":2.15},{"acetone":4.3,"acetaldehyde":2.3},{"acetone":1.6,"acetaldehyde":1.3},{"acetone":1.8,"acetaldehyde":0.8}
],
"l1": [{"methanol":-0.41,"ethanol":-0.295},{"methanol":43.2,"ethanol":5.59}],
"l2": [{"methanol":-0.27,"acetone":0.134},{"methanol":43.2,"acetone":10.74}],
"l3": [{"ethanol":-0.22,"acetone":0.63},{"ethanol":6.68,"acetone":11.18}],
"l4": [{"acetone":-0.04,"acetaldehyde":0.234},{"acetone":9.41,"acetaldehyde":3.98}]
},
"columns": 2,
"spacing": {"row": 105, "column": 132},
"bounds": "flush",
"concat": [
{
"width": 321, "height": 210,
"layer": [
{"data": {"name": "p1"}, "mark": {"type": "point", "shape": "circle", "filled": false, "color": "black", "size": 110, "strokeWidth": 1.4, "opacity": 1},
"encoding": {
"x": {"field": "methanol", "type": "quantitative", "title": "methanol (ppb)", "scale": {"domain": [-0.41, 43.2], "nice": false, "zero": false},
"axis": {"values": [0,10,20,30,40], "format": "d", "labelPadding": 33, "labelBaseline": "alphabetic", "titleY": 62, "titleBaseline": "alphabetic"}},
"y": {"field": "ethanol", "type": "quantitative", "title": "ethanol (ppb)", "scale": {"domain": [-0.11, 6.79], "nice": false, "zero": false},
"axis": {"values": [0,1,2,3,4,5,6], "format": "d", "labelAngle": -90, "labelAlign": "center", "labelBaseline": "alphabetic", "labelPadding": 16, "titleX": -44.7, "titleBaseline": "alphabetic", "titleAngle": -90}}
}},
{"data": {"name": "l1"}, "mark": {"type": "line", "color": "black", "strokeWidth": 1.8, "clip": true},
"encoding": {"x": {"field": "methanol", "type": "quantitative", "title": "methanol (ppb)"}, "y": {"field": "ethanol", "type": "quantitative", "title": "ethanol (ppb)"}}}
]
},
{
"width": 321, "height": 210,
"layer": [
{"data": {"name": "p2"}, "mark": {"type": "point", "shape": "circle", "filled": false, "color": "black", "size": 110, "strokeWidth": 1.4, "opacity": 1},
"encoding": {
"x": {"field": "methanol", "type": "quantitative", "title": "methanol (ppb)", "scale": {"domain": [-0.27, 43.2], "nice": false, "zero": false},
"axis": {"values": [0,10,20,30,40], "format": "d", "labelPadding": 30, "labelBaseline": "alphabetic", "titleY": 63.5, "titleBaseline": "alphabetic"}},
"y": {"field": "acetone", "type": "quantitative", "title": "acetone (ppb)", "scale": {"domain": [-0.19, 11.68], "nice": false, "zero": false},
"axis": {"values": [0,2,4,6,8,10], "format": "d", "labelExpr": "datum.value == 10 ? '' : datum.label", "labelAngle": -90, "labelAlign": "center", "labelBaseline": "alphabetic", "labelPadding": 8, "titleX": -45.3, "titleBaseline": "alphabetic", "titleAngle": -90}}
}},
{"data": {"name": "l2"}, "mark": {"type": "line", "color": "black", "strokeWidth": 1.8, "clip": true},
"encoding": {"x": {"field": "methanol", "type": "quantitative", "title": "methanol (ppb)"}, "y": {"field": "acetone", "type": "quantitative", "title": "acetone (ppb)"}}}
]
},
{
"width": 321, "height": 210,
"layer": [
{"data": {"name": "p3"}, "mark": {"type": "point", "shape": "circle", "filled": false, "color": "black", "size": 110, "strokeWidth": 1.4, "opacity": 1},
"encoding": {
"x": {"field": "ethanol", "type": "quantitative", "title": "ethanol (ppb)", "scale": {"domain": [-0.22, 6.68], "nice": false, "zero": false},
"axis": {"values": [0,1,2,3,4,5,6], "format": "d", "labelPadding": 33, "labelBaseline": "alphabetic", "titleY": 65, "titleBaseline": "alphabetic"}},
"y": {"field": "acetone", "type": "quantitative", "title": "acetone (ppb)", "scale": {"domain": [-0.02, 11.71], "nice": false, "zero": false},
"axis": {"values": [0,2,4,6,8,10], "format": "d", "labelExpr": "datum.value == 10 ? '' : datum.label", "labelAngle": -90, "labelAlign": "center", "labelBaseline": "alphabetic", "labelPadding": 7.3, "titleX": -43.3, "titleBaseline": "alphabetic", "titleAngle": -90}}
}},
{"data": {"name": "l3"}, "mark": {"type": "line", "color": "black", "strokeWidth": 1.8, "clip": true},
"encoding": {"x": {"field": "ethanol", "type": "quantitative", "title": "ethanol (ppb)"}, "y": {"field": "acetone", "type": "quantitative", "title": "acetone (ppb)"}}}
]
},
{
"width": 321, "height": 210,
"layer": [
{"data": {"name": "p4"}, "mark": {"type": "point", "shape": "circle", "filled": false, "color": "black", "size": 110, "strokeWidth": 1.4, "opacity": 1, "clip": true},
"encoding": {
"x": {"field": "acetone", "type": "quantitative", "title": "acetone (ppb)", "scale": {"domain": [-0.04, 9.41], "nice": false, "zero": false},
"axis": {"values": [2,4,6,8], "format": "d", "labelPadding": 31.5, "labelBaseline": "alphabetic", "titleY": 66, "titleBaseline": "alphabetic"}},
"y": {"field": "acetaldehyde", "type": "quantitative", "title": "acetaldehyde (ppb)", "scale": {"domain": [-0.08, 3.75], "nice": false, "zero": false},
"axis": {"values": [0,1,2,3], "format": "d", "labelAngle": -90, "labelAlign": "center", "labelBaseline": "alphabetic", "labelPadding": 12, "titleX": -47.7, "titleBaseline": "alphabetic", "titleAngle": -90}}
}},
{"data": {"name": "l4"}, "mark": {"type": "line", "color": "black", "strokeWidth": 1.8, "clip": true},
"encoding": {"x": {"field": "acetone", "type": "quantitative", "title": "acetone (ppb)"}, "y": {"field": "acetaldehyde", "type": "quantitative", "title": "acetaldehyde (ppb)"}}}
]
}
],
"config": {
"view": {"stroke": "black", "strokeWidth": 1.3},
"font": "Liberation Sans",
"axis": {"domain": false, "grid": false, "ticks": true, "tickColor": "black", "tickSize": 5, "tickWidth": 1.2, "labelFont": "Liberation Sans", "labelFontSize": 22, "labelColor": "black", "labelFlush": false, "labelOverlap": false, "titleFont": "Liberation Sans", "titleFontSize": 23, "titleFontWeight": "normal", "titleColor": "black"}
}
}
